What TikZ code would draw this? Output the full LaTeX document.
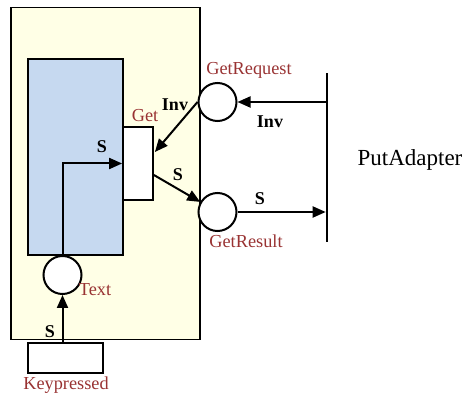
\documentclass[tikz,border=0pt]{standalone}
\usepackage{fontspec}
\setmainfont{Liberation Serif}
\usetikzlibrary{arrows.meta,calc}
\definecolor{paleyellow}{HTML}{FFFFE6}
\definecolor{paleblue}{HTML}{C6D9F0}
\definecolor{labelred}{HTML}{993333}
\tikzset{
  lbl/.style={text=labelred,font=\fontsize{18.3}{20}\selectfont,inner sep=0pt},
  bl/.style={font=\fontsize{18}{20}\selectfont\bfseries,inner sep=0pt},
  place/.style={circle,draw,line width=2pt,fill=white,minimum size=38pt,inner sep=0pt},
  box/.style={rectangle,draw,line width=1.8pt,inner sep=0pt},
  arr/.style={line width=2pt,-{Triangle[length=13pt,width=11pt]}}
}
\begin{document}
\begin{tikzpicture}[x=1pt,y=-1pt]
\useasboundingbox (0,0) rectangle (464,398);
% outer yellow component
\node[box,fill=paleyellow,minimum width=189pt,minimum height=332pt] (outer) at (105.5,173.5) {};
% inner blue component
\node[box,fill=paleblue,minimum width=95pt,minimum height=196pt] (inner) at (75.5,157) {};
% Get port box
\node[box,fill=white,minimum width=30pt,minimum height=73pt] (get) at (138,163.5) {};
% places
\node[place] (req) at (217.5,102) {};
\node[place] (res) at (217.5,212) {};
\node[place] (txt) at (62.5,275) {};
% keypressed box
\node[box,fill=white,minimum width=75pt,minimum height=30pt] (kp) at (65.5,358) {};
% PutAdapter bar
\node[fill=black,inner sep=0pt,minimum width=2.2pt,minimum height=169pt] (bar) at (327,157.5) {};
% connectors
\draw[arr] (req -| bar.west) -- (req.east);
\draw[arr] (res.east) -- (res -| bar.west);
\draw[arr] (req.west) -- ($(get.east)+(1,-11.5)$);
\draw[arr] ($(get.east)+(0,11.5)$) -- (res);
\draw[arr] (txt.north) |- (get.west);
\draw[arr] (kp.north -| txt) -- (txt.south);
% labels
\node[lbl] (lreq) at (249,70) {GetRequest};
\node[lbl] (lget) at (145,116) {Get};
\node[lbl] (lres) at (246,241) {GetResult};
\node[lbl] (ltxt) at (95,290) {Text};
\node[lbl] (lkp) at (66,385) {Keypressed};
\node[bl] (inv1) at (175,105) {Inv};
\node[bl] (inv2) at (270,122) {Inv};
\node[bl] (s1) at (102,147) {S};
\node[bl] (s2) at (178,175) {S};
\node[bl] (s3) at (260,199) {S};
\node[bl] (s4) at (50,332) {S};
\node[font=\fontsize{23}{26}\selectfont,inner sep=0pt] (pa) at (410,160) {PutAdapter};
\end{tikzpicture}
\end{document}
